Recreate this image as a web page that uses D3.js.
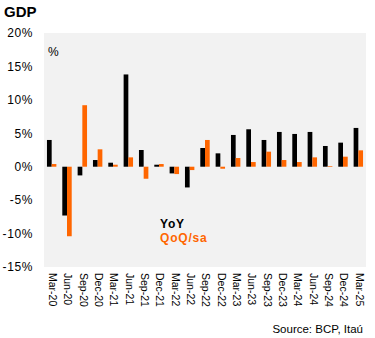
<!DOCTYPE html>
<html>
<head>
<meta charset="utf-8">
<script src="https://cdn.jsdelivr.net/npm/d3@7"></script>
<style>
  body { margin: 0; background: #fff; }
  svg { display: block; font-family: Arial, "Liberation Sans", sans-serif; }
</style>
</head>
<body>
<div id="chart"></div>
<script>
var width = 375,
    height = 338,
    margin = {top: 33, right: 9, bottom: 71, left: 44};

var quarters = ["Mar-20", "Jun-20", "Sep-20", "Dec-20", "Mar-21", "Jun-21", "Sep-21",
                "Dec-21", "Mar-22", "Jun-22", "Sep-22", "Dec-22", "Mar-23", "Jun-23",
                "Sep-23", "Dec-23", "Mar-24", "Jun-24", "Sep-24", "Dec-24", "Mar-25"];
var yoy = [4.0, -7.3, -1.3, 1.0, 0.6, 13.8, 2.5, 0.3, -1.0, -3.1, 2.8,
           2.0, 4.75, 5.6, 4.0, 5.2, 4.9, 5.2, 3.1, 3.6, 5.8];
var qoq = [0.4, -10.4, 9.2, 2.6, 0.3, 1.4, -1.8, 0.4, -1.1, -0.5, 4.0,
           -0.3, 1.3, 0.7, 2.25, 1.0, 0.7, 1.4, 0.1, 1.5, 2.45];
var yTicks = [-15, -10, -5, 0, 5, 10, 15, 20];
var seriesNames = ["YoY", "QoQ/sa"];
var colors = ["#000000", "#ff6600"];

var rows = quarters.map(function(q, i) {
  return {q: q, values: [{key: seriesNames[0], v: yoy[i]}, {key: seriesNames[1], v: qoq[i]}]};
});

var svg = d3.select("#chart").append("svg")
    .attr("width", width)
    .attr("height", height);

var x = d3.scaleBand()
    .domain(quarters)
    .range([margin.left, width - margin.right])
    .padding(0);

var xSub = d3.scaleBand()
    .domain(seriesNames)
    .range([0, x.bandwidth()])
    .paddingInner(0)
    .paddingOuter(0.63);

var y = d3.scaleLinear()
    .domain([-15, 20])
    .range([height - margin.bottom, margin.top]);

var color = d3.scaleOrdinal().domain(seriesNames).range(colors);

// plot background
svg.append("rect")
    .attr("x", margin.left)
    .attr("y", margin.top)
    .attr("width", width - margin.left - margin.right)
    .attr("height", height - margin.top - margin.bottom)
    .attr("fill", "#f2f2f2");

// title
svg.append("text")
    .attr("x", 4)
    .attr("y", 17)
    .attr("font-size", 15)
    .attr("font-weight", "bold")
    .text("GDP");

// y axis
var yAxis = svg.append("g")
    .attr("transform", "translate(" + (margin.left - 11) + ",0)")
    .call(d3.axisLeft(y).tickValues(yTicks).tickSize(0).tickPadding(0)
      .tickFormat(function(d) { return d + "%"; }));
yAxis.select(".domain").remove();
yAxis.selectAll("text")
    .attr("font-size", 12)
    .attr("font-family", "Arial, 'Liberation Sans', sans-serif")
    .attr("fill", "#000")
    .attr("letter-spacing", 0.6);

// unit label
svg.append("text")
    .attr("x", 48)
    .attr("y", 56)
    .attr("font-size", 12)
    .text("%");

// bars
var groups = svg.selectAll("g.quarter")
    .data(rows)
  .enter().append("g")
    .attr("class", "quarter")
    .attr("transform", function(d) { return "translate(" + x(d.q) + ",0)"; });

groups.selectAll("rect")
    .data(function(d) { return d.values; })
  .enter().append("rect")
    .attr("x", function(d) { return xSub(d.key); })
    .attr("width", xSub.bandwidth())
    .attr("y", function(d) { return y(Math.max(0, d.v)); })
    .attr("height", function(d) { return Math.abs(y(d.v) - y(0)); })
    .attr("fill", function(d) { return color(d.key); });

// x labels, rotated to read top to bottom
var xAxis = svg.append("g")
    .attr("transform", "translate(0," + (height - margin.bottom + 6) + ")")
    .call(d3.axisBottom(x).tickSize(0).tickPadding(0));
xAxis.select(".domain").remove();
xAxis.selectAll("text")
    .attr("font-size", 10.5)
    .attr("font-family", "Arial, 'Liberation Sans', sans-serif")
    .attr("fill", "#000")
    .attr("text-anchor", "start")
    .attr("transform", "translate(1,0) rotate(90)")
    .attr("x", 0)
    .attr("y", 0)
    .attr("dy", "0.35em");

// legend
var legend = svg.selectAll("text.legend")
    .data(seriesNames)
  .enter().append("text")
    .attr("class", "legend")
    .attr("x", 160)
    .attr("y", function(d, i) { return 228 + i * 14; })
    .attr("font-size", 12)
    .attr("font-weight", "bold")
    .attr("letter-spacing", 0.8)
    .attr("fill", function(d) { return color(d); })
    .text(function(d) { return d; });

// source
svg.append("text")
    .attr("x", 363)
    .attr("y", 333)
    .attr("text-anchor", "end")
    .attr("font-size", 11.5)
    .text("Source: BCP, Itaú");
</script>
</body>
</html>
